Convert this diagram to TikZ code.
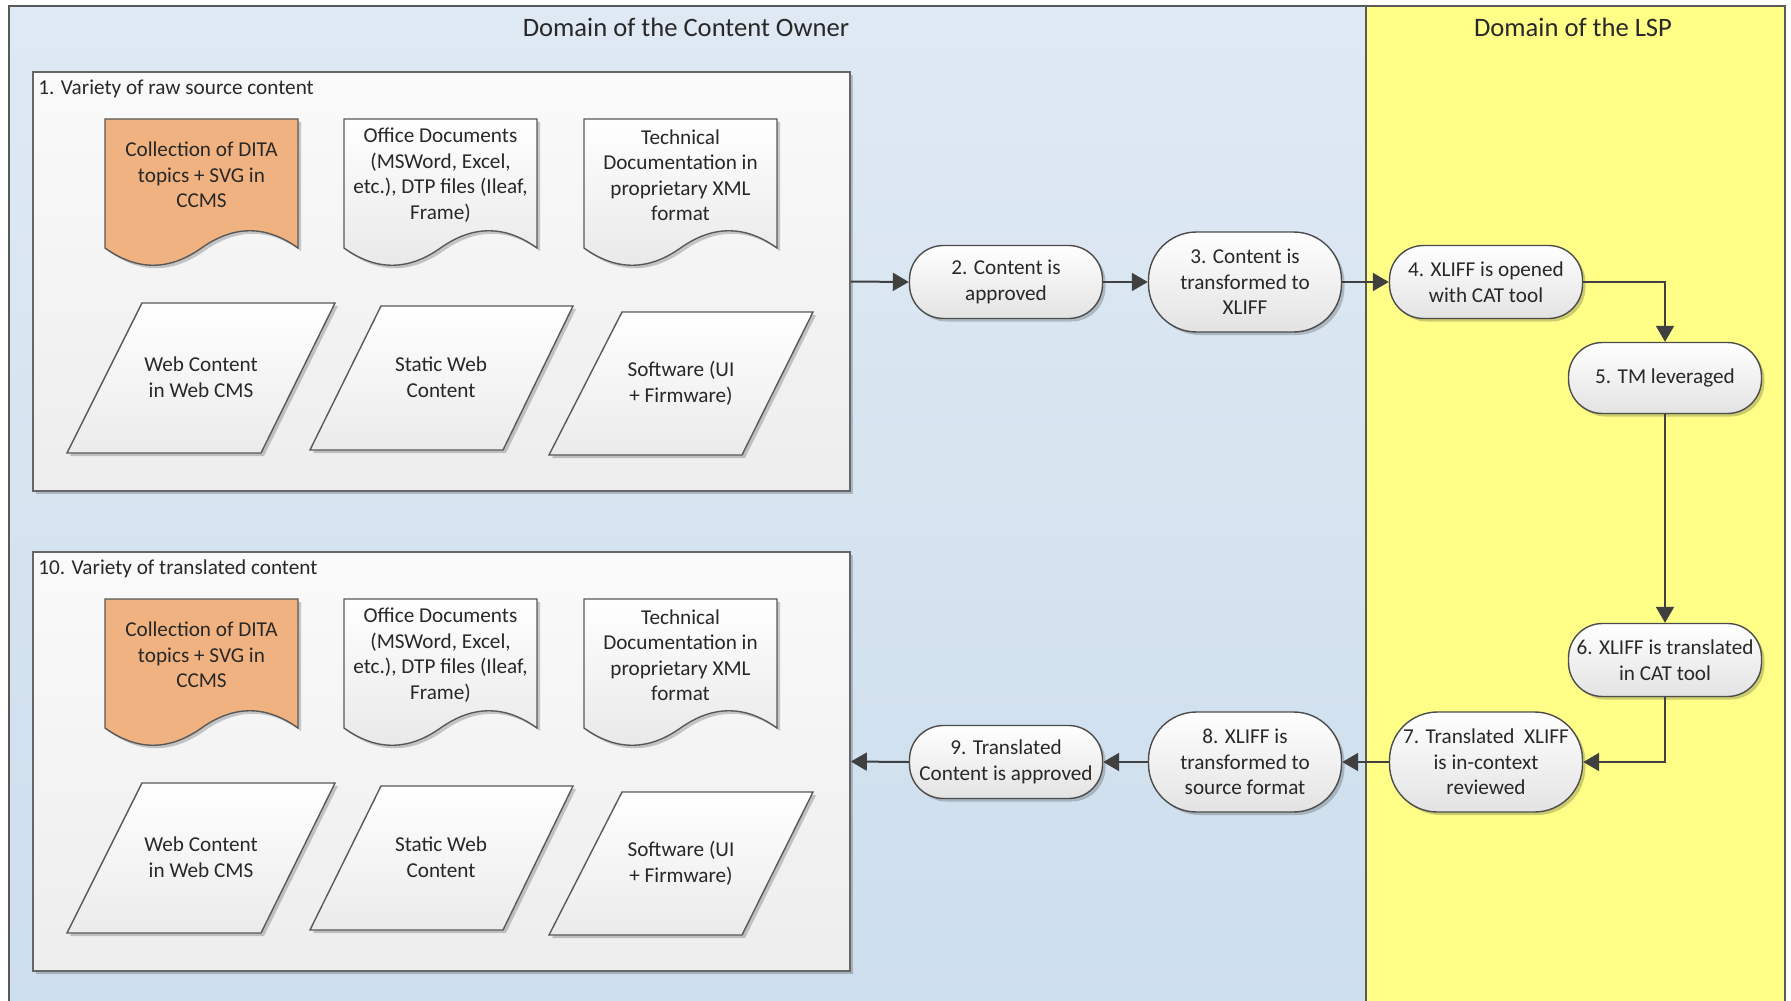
\documentclass[tikz,border=0pt]{standalone}
\usepackage{fontspec}
\setmainfont{Carlito}
\usetikzlibrary{arrows.meta,shadows}
\definecolor{laneblueT}{RGB}{223,233,243}
\definecolor{laneblueB}{RGB}{205,222,237}
\definecolor{lspyellow}{RGB}{255,255,136}
\definecolor{ccmsorange}{RGB}{240,178,128}
\definecolor{edgegray}{RGB}{64,64,64}
\definecolor{txtgray}{RGB}{40,40,40}
\newcommand\txtfont{\fontsize{10.6}{12.75}\selectfont}
\newcommand\ttlfont{\fontsize{13.3}{16}\selectfont}
\tikzset{
 softshadow/.style={drop shadow={shadow xshift=1.5pt, shadow yshift=-1.5pt, opacity=0.2, fill=black}},
 panel/.style={draw=black!60, line width=0.8pt, top color=black!2, bottom color=black!7, softshadow, inner sep=0pt},
 paneltitle/.style={font=\txtfont, text=txtgray, inner sep=0pt},
 docgray/.style={draw=black!65, line width=0.7pt, top color=white, bottom color=black!9, softshadow},
 docorange/.style={draw=black!65, line width=0.7pt, fill=ccmsorange, softshadow},
 parashape/.style={draw=black!65, line width=0.7pt, top color=white, bottom color=black!8, softshadow},
 shapetext/.style={font=\txtfont, text=txtgray, align=center, inner sep=0pt},
 proc/.style={draw=black!70, line width=0.7pt, top color=white, bottom color=black!11, softshadow, font=\txtfont, text=txtgray, align=center, inner sep=0pt, minimum width=96.5pt},
 procshort/.style={proc, minimum height=36.5pt, rounded corners=17pt},
 proctall/.style={proc, minimum height=50pt, rounded corners=24pt},
 flow/.style={draw=edgegray, line width=1pt, -{Triangle[length=8pt,width=9pt]}},
 lanetitle/.style={font=\ttlfont, text=txtgray, inner sep=0pt},
}
\newcommand\DocPath[2]{\path[#1, shift={(#2,119)}] (0,0) -- (193,0) -- (193,129) .. controls (161,106) and (129,106) .. (96.5,129) .. controls (64,152) and (32,152) .. (0,129) -- cycle;}
\newcommand\ContentSet[3]{%
\begin{scope}[shift={(0,#2)}]
 \node[panel, minimum width=408.5pt, minimum height=209.5pt] (#1box) at (441.5,281.5) {};
 \node[paneltitle, anchor=west] (#1title) at (38,89) {#3};
 \DocPath{docorange}{105}
 \DocPath{docgray}{344}
 \DocPath{docgray}{584}
 \node[shapetext] (#1dita) at (201.5,175) {Collection of DITA\\topics + SVG in\\CCMS};
 \node[shapetext] (#1office) at (440.5,175) {Office Documents\\(MSWord, Excel,\\etc.), DTP files (Ileaf,\\Frame)};
 \node[shapetext] (#1techdoc) at (680.5,175) {Technical\\Documentation in\\proprietary XML\\format};
 \path[parashape] (67,453) -- (142,303) -- (335,303) -- (261,453) -- cycle;
 \path[parashape] (310,450) -- (381,306) -- (573,306) -- (503,450) -- cycle;
 \path[parashape] (549,455) -- (622,312) -- (813,312) -- (742,455) -- cycle;
 \node[shapetext] (#1webcms) at (201,377) {Web Content\\in Web CMS};
 \node[shapetext] (#1static) at (441,377) {Static Web\\Content};
 \node[shapetext] (#1software) at (681,383) {Software (UI\\+ Firmware)};
\end{scope}}
\begin{document}
\begin{tikzpicture}[x=0.5pt,y=-0.5pt]
\path[use as bounding box] (0,0) rectangle (1791,1000);
\clip (0,0) rectangle (1791,1000);
\fill[white] (0,0) rectangle (1791,1000);
% swimlanes
\path[top color=laneblueT, bottom color=laneblueB] (9,6) rectangle (1366,1012);
\fill[lspyellow] (1366,6) rectangle (1785,1012);
\draw[black!65, line width=1pt] (9,1012) -- (9,6) -- (1785,6) -- (1785,1012);
\draw[black!65, line width=1pt] (1366,6) -- (1366,1012);
\node[lanetitle] (ownertitle) at (686,27) {Domain of the Content Owner};
\node[lanetitle] (lsptitle) at (1573,27) {Domain of the LSP};
% content panels
\ContentSet{src}{0}{1. Variety of raw source content}
\ContentSet{trg}{480}{10. Variety of translated content}
% process steps
\node[procshort] (n2) at (1006,282) {2. Content is\\approved};
\node[proctall] (n3) at (1245,282) {3. Content is\\transformed to\\XLIFF};
\node[procshort] (n4) at (1486,282) {4. XLIFF is opened\\with CAT tool};
\node[procshort, minimum height=35.5pt] (n5) at (1665,378) {5. TM leveraged};
\node[procshort] (n6) at (1665,660) {6. XLIFF is translated\\in CAT tool};
\node[proctall] (n7) at (1486,762) {7. Translated\ \ XLIFF\\is in-context\\reviewed};
\node[proctall] (n8) at (1245,762) {8. XLIFF is\\transformed to\\source format};
\node[procshort] (n9) at (1006,762) {9. Translated\\Content is approved};
% connectors
\draw[flow] (srcbox.east) -- (n2.west);
\draw[flow] (n2) -- (n3);
\draw[flow] (n3) -- (n4);
\draw[flow] (n4.east) -| (n5.north);
\draw[flow] (n5) -- (n6);
\draw[flow] (n6.south) |- (n7.east);
\draw[flow] (n7) -- (n8);
\draw[flow] (n8) -- (n9);
\draw[flow] (n9.west) -- (trgbox.east);
\end{tikzpicture}
\end{document}
